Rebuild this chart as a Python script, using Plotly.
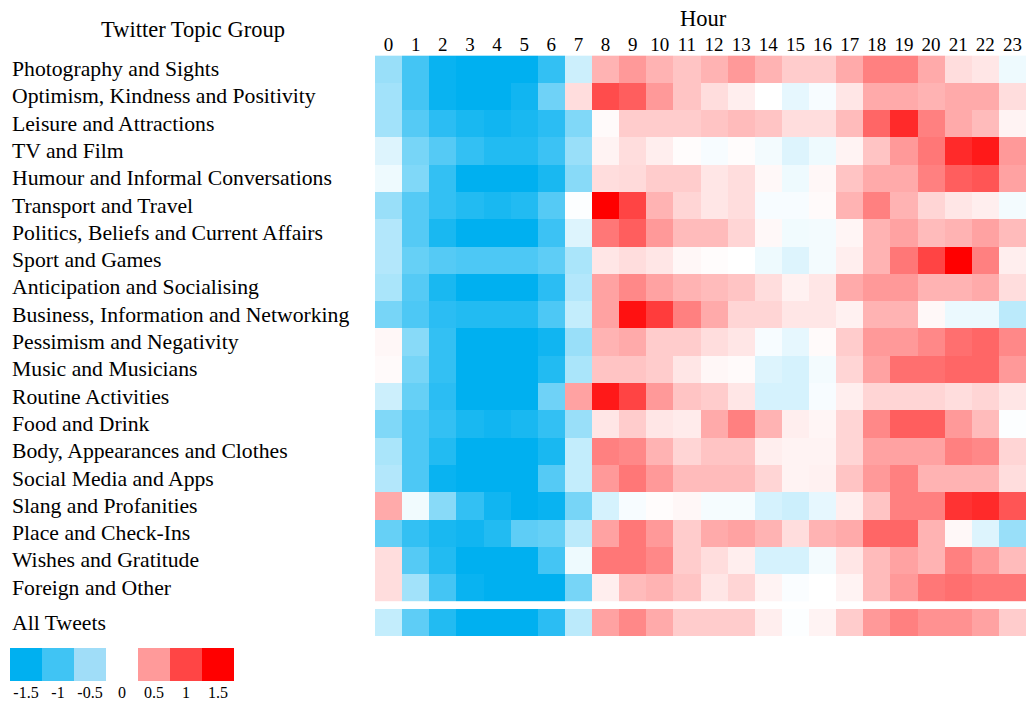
import plotly.graph_objects as go

W, H = 1026, 705

hours = list(range(24))
hour_labels = [str(h) for h in hours]

topics = [
    "Photography and Sights",
    "Optimism, Kindness and Positivity",
    "Leisure and Attractions",
    "TV and Film",
    "Humour and Informal Conversations",
    "Transport and Travel",
    "Politics, Beliefs and Current Affairs",
    "Sport and Games",
    "Anticipation and Socialising",
    "Business, Information and Networking",
    "Pessimism and Negativity",
    "Music and Musicians",
    "Routine Activities",
    "Food and Drink",
    "Body, Appearances and Clothes",
    "Social Media and Apps",
    "Slang and Profanities",
    "Place and Check-Ins",
    "Wishes and Gratitude",
    "Foreign and Other",
]

photography = [-0.6, -1.1, -1.45, -1.5, -1.5, -1.5, -1.2, -0.3, 0.45, 0.6, 0.45, 0.35, 0.45, 0.6, 0.45, 0.3, 0.3, 0.5, 0.75, 0.75, 0.5, 0.2, 0.15, -0.1]
optimism = [-0.55, -1.1, -1.45, -1.5, -1.5, -1.4, -0.85, 0.2, 1.05, 0.95, 0.6, 0.35, 0.2, 0.1, 0.0, -0.15, -0.05, 0.15, 0.5, 0.5, 0.45, 0.5, 0.5, 0.2]
leisure = [-0.55, -1.0, -1.25, -1.35, -1.4, -1.35, -1.25, -0.75, 0.03, 0.3, 0.3, 0.3, 0.35, 0.4, 0.35, 0.2, 0.2, 0.4, 0.9, 1.25, 0.75, 0.5, 0.4, 0.07]
tv_film = [-0.2, -0.8, -1.0, -1.2, -1.3, -1.3, -1.15, -0.6, 0.07, 0.2, 0.1, 0.02, -0.05, 0.02, -0.07, -0.2, -0.1, 0.07, 0.35, 0.6, 0.8, 1.25, 1.35, 0.6]
humour = [-0.1, -0.75, -1.2, -1.5, -1.5, -1.5, -1.35, -0.7, 0.2, 0.22, 0.3, 0.3, 0.15, 0.2, 0.04, -0.1, 0.05, 0.35, 0.5, 0.5, 0.75, 0.95, 1.0, 0.55]
transport = [-0.6, -1.0, -1.2, -1.3, -1.35, -1.3, -1.0, -0.02, 1.5, 1.1, 0.45, 0.25, 0.15, 0.2, -0.05, -0.05, 0.03, 0.45, 0.75, 0.45, 0.25, 0.15, 0.1, -0.07]
politics = [-0.45, -1.0, -1.35, -1.5, -1.5, -1.5, -1.15, -0.2, 0.8, 0.95, 0.6, 0.4, 0.4, 0.25, 0.04, -0.08, -0.07, 0.06, 0.45, 0.55, 0.4, 0.45, 0.55, 0.4]
sport = [-0.45, -0.9, -1.0, -1.05, -1.05, -1.05, -0.95, -0.5, 0.15, 0.2, 0.15, 0.05, 0.02, 0.0, -0.1, -0.2, -0.07, 0.1, 0.45, 0.8, 1.1, 1.55, 0.75, 0.1]
anticipation = [-0.5, -1.0, -1.35, -1.5, -1.5, -1.5, -1.25, -0.45, 0.55, 0.7, 0.55, 0.45, 0.4, 0.35, 0.2, 0.08, 0.15, 0.5, 0.6, 0.6, 0.45, 0.45, 0.5, 0.2]
business = [-0.8, -1.05, -1.25, -1.3, -1.3, -1.3, -1.05, -0.35, 0.55, 1.4, 1.15, 0.75, 0.5, 0.25, 0.25, 0.15, 0.15, 0.08, 0.45, 0.45, 0.04, -0.12, -0.12, -0.4]
pessimism = [0.05, -0.7, -1.2, -1.5, -1.5, -1.5, -1.4, -0.6, 0.45, 0.5, 0.3, 0.3, 0.2, 0.15, -0.05, -0.15, 0.03, 0.3, 0.6, 0.6, 0.7, 0.85, 0.9, 0.7]
music = [0.03, -0.8, -1.2, -1.5, -1.5, -1.5, -1.3, -0.5, 0.35, 0.35, 0.3, 0.15, 0.05, 0.03, -0.2, -0.25, -0.07, 0.25, 0.55, 0.85, 0.85, 0.9, 0.9, 0.6]
routine = [-0.3, -0.9, -1.25, -1.5, -1.5, -1.5, -0.85, 0.55, 1.35, 1.1, 0.6, 0.35, 0.3, 0.15, -0.25, -0.25, -0.05, 0.1, 0.25, 0.25, 0.25, 0.2, 0.25, 0.15]
food = [-0.75, -1.05, -1.2, -1.35, -1.4, -1.35, -1.2, -0.6, 0.15, 0.3, 0.15, 0.12, 0.5, 0.75, 0.45, 0.1, 0.06, 0.25, 0.7, 0.95, 0.95, 0.6, 0.4, -0.02]
body = [-0.5, -1.05, -1.3, -1.5, -1.5, -1.5, -1.35, -0.35, 0.75, 0.7, 0.45, 0.25, 0.35, 0.35, 0.1, 0.07, 0.07, 0.25, 0.55, 0.55, 0.55, 0.75, 0.7, 0.25]
social = [-0.45, -1.05, -1.45, -1.5, -1.5, -1.5, -1.0, -0.35, 0.6, 0.8, 0.6, 0.4, 0.4, 0.4, 0.25, 0.07, 0.08, 0.35, 0.6, 0.75, 0.45, 0.45, 0.45, 0.2]
slang = [0.5, -0.08, -0.7, -1.2, -1.4, -1.5, -1.45, -0.8, -0.25, -0.05, 0.02, 0.05, -0.06, -0.06, -0.25, -0.3, -0.15, 0.1, 0.35, 0.75, 0.75, 1.2, 1.25, 1.0]
place = [-0.9, -1.2, -1.35, -1.4, -1.3, -0.95, -0.9, -0.4, 0.55, 0.8, 0.6, 0.3, 0.5, 0.55, 0.45, 0.2, 0.45, 0.5, 0.9, 0.9, 0.45, 0.04, -0.2, -0.6]
wishes = [0.2, -1.0, -1.3, -1.5, -1.5, -1.5, -1.1, -0.1, 0.8, 0.8, 0.7, 0.3, 0.2, 0.1, -0.25, -0.25, -0.07, 0.15, 0.4, 0.55, 0.45, 0.75, 0.6, 0.4]
foreign = [0.2, -0.55, -1.1, -1.45, -1.5, -1.5, -1.5, -0.8, 0.1, 0.4, 0.45, 0.35, 0.15, 0.25, 0.07, -0.03, 0.0, 0.07, 0.4, 0.6, 0.8, 0.85, 0.8, 0.8]

all_tweets = [-0.35, -0.95, -1.3, -1.5, -1.5, -1.5, -1.25, -0.4, 0.55, 0.7, 0.5, 0.3, 0.3, 0.3, 0.1, -0.02, 0.07, 0.3, 0.6, 0.75, 0.65, 0.65, 0.55, 0.3]

legend_values = [-1.5, -1, -0.5, 0, 0.5, 1, 1.5]
legend_labels = ["-1.5", "-1", "-0.5", "0", "0.5", "1", "1.5"]

topic_values = [photography, optimism, leisure, tv_film, humour, transport, politics,
                sport, anticipation, business, pessimism, music, routine, food, body,
                social, slang, place, wishes, foreign]

colorscale = [[0.0, "#00B0F0"], [0.5, "#FFFFFF"], [1.0, "#FF0000"]]
legend_colorscale = [[0.0, "#00B0F0"], [1 / 6, "#40C4F4"], [2 / 6, "#A0DDF8"], [0.5, "#FFFFFF"],
                     [4 / 6, "#FF9A9A"], [5 / 6, "#FF4545"], [1.0, "#FF0000"]]
FONT = "Liberation Serif, Times New Roman, serif"


def px_x(p):
    return p / W


def px_y(p):
    return 1 - p / H


fig = go.Figure()

# main heatmap
fig.add_trace(go.Heatmap(
    z=topic_values, x=hours, y=list(range(len(topics))),
    colorscale=colorscale, zmin=-1.5, zmax=1.5, showscale=False,
    xaxis="x", yaxis="y", hoverinfo="skip"))

# all tweets row
fig.add_trace(go.Heatmap(
    z=[all_tweets], x=hours, y=[0],
    colorscale=colorscale, zmin=-1.5, zmax=1.5, showscale=False,
    xaxis="x2", yaxis="y2", hoverinfo="skip"))

# legend boxes
fig.add_trace(go.Heatmap(
    z=[legend_values], x=list(range(len(legend_values))), y=[0],
    colorscale=legend_colorscale, zmin=-1.5, zmax=1.5, showscale=False,
    xaxis="x3", yaxis="y3", hoverinfo="skip"))

row_top, row_h = 55.4, 27.3
main_bottom = row_top + row_h * len(topics)
all_top = 609.0
all_bottom = all_top + row_h

LABEL_SIZE = 21.7
annotations = []
for i, t in enumerate(topics):
    yc = row_top + row_h * (i + 0.5)
    annotations.append(dict(x=px_x(10), y=px_y(yc), xref="paper", yref="paper",
                            text=t, showarrow=False, xanchor="left", yanchor="middle",
                            font=dict(family=FONT, size=LABEL_SIZE, color="black")))
annotations.append(dict(x=px_x(10), y=px_y((all_top + all_bottom) / 2), xref="paper", yref="paper",
                        text="All Tweets", showarrow=False, xanchor="left", yanchor="middle",
                        font=dict(family=FONT, size=LABEL_SIZE, color="black")))
annotations.append(dict(x=px_x(193), y=px_y(30), xref="paper", yref="paper",
                        text="Twitter Topic Group", showarrow=False, xanchor="center", yanchor="middle",
                        font=dict(family=FONT, size=22.5, color="black")))
annotations.append(dict(x=px_x(703), y=px_y(18), xref="paper", yref="paper",
                        text="Hour", showarrow=False, xanchor="center", yanchor="middle",
                        font=dict(family=FONT, size=22.5, color="black")))

fig.update_layout(
    width=W, height=H,
    margin=dict(l=0, r=0, t=0, b=0),
    paper_bgcolor="white", plot_bgcolor="white",
    annotations=annotations,
    xaxis=dict(domain=[px_x(375), 1.0], side="top", tickmode="array",
               tickvals=hours, ticktext=hour_labels, showgrid=False, zeroline=False,
               ticks="", tickfont=dict(family=FONT, size=19, color="black"),
               range=[-0.5, 23.5], anchor="y", showline=False),
    yaxis=dict(domain=[px_y(main_bottom), px_y(row_top)], autorange="reversed",
               showticklabels=False, showgrid=False, zeroline=False, ticks="", anchor="x"),
    xaxis2=dict(domain=[px_x(375), 1.0], showticklabels=False, showgrid=False,
                zeroline=False, ticks="", range=[-0.5, 23.5], anchor="y2"),
    yaxis2=dict(domain=[px_y(all_bottom), px_y(all_top)], showticklabels=False,
                showgrid=False, zeroline=False, ticks="", anchor="x2"),
    xaxis3=dict(domain=[px_x(10), px_x(234)], tickmode="array",
                tickvals=list(range(len(legend_values))), ticktext=legend_labels,
                showgrid=False, zeroline=False, ticks="",
                tickfont=dict(family=FONT, size=16, color="black"),
                range=[-0.5, len(legend_values) - 0.5], anchor="y3"),
    yaxis3=dict(domain=[px_y(681), px_y(648)], showticklabels=False,
                showgrid=False, zeroline=False, ticks="", anchor="x3"),
)

fig.write_html("out.html",
               config={"displayModeBar": False},
               post_script="document.body.style.margin='0px';document.body.style.overflow='hidden';")
